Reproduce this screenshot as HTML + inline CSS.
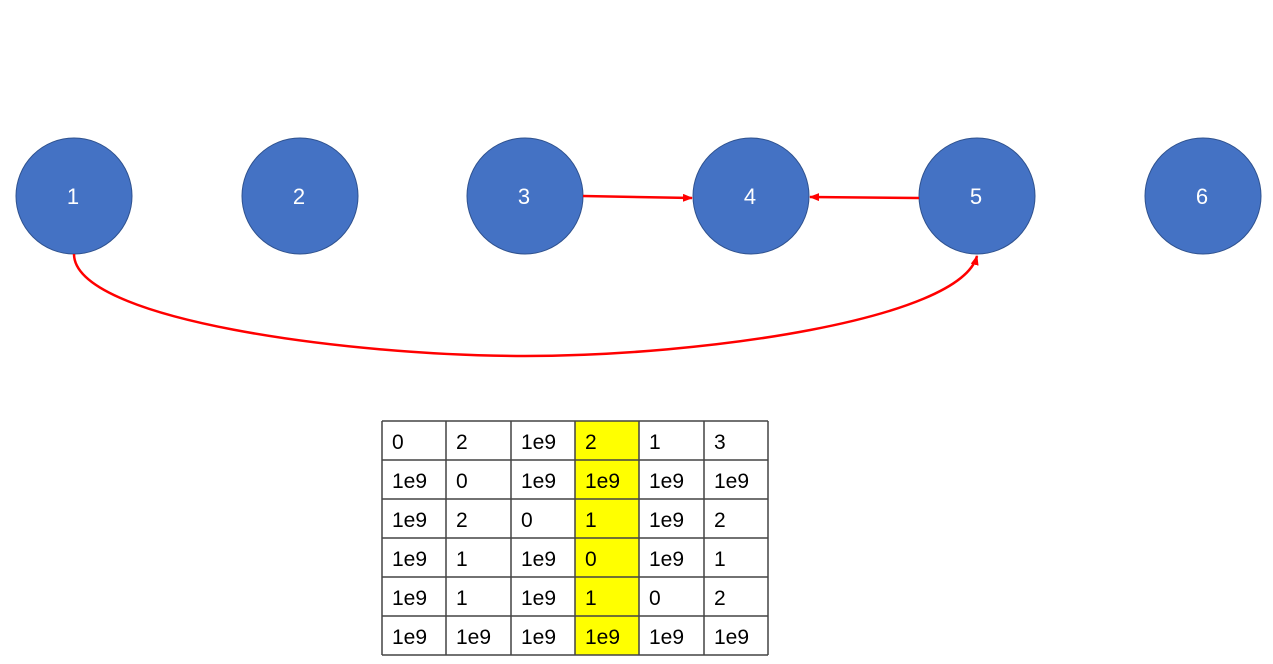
<!DOCTYPE html>
<html><head><style>
body{margin:0;background:#fff;width:1273px;height:664px;overflow:hidden;font-family:"Liberation Sans","Noto Sans CJK KR",sans-serif}
</style></head><body>
<svg width="1273" height="664" style="position:absolute;left:0;top:0">
<defs><marker id="a" markerWidth="10" markerHeight="8" refX="9" refY="4" orient="auto" markerUnits="userSpaceOnUse"><path d="M0,0 L10,4 L0,8 Z" fill="#f00"/></marker></defs>
<g fill="#4472c4" stroke="#2f528f" stroke-width="1">
<circle cx="74" cy="196" r="58"/><circle cx="300" cy="196" r="58"/><circle cx="525" cy="196" r="58"/>
<circle cx="751" cy="196" r="58"/><circle cx="977" cy="196" r="58"/><circle cx="1203" cy="196" r="58"/>
</g>
<g fill="#fff" font-size="22" text-anchor="middle" font-family="Liberation Sans,sans-serif">
<text x="73" y="204">1</text><text x="299" y="204">2</text><text x="524" y="204">3</text>
<text x="750" y="204">4</text><text x="976" y="204">5</text><text x="1202" y="204">6</text>
</g>
<g stroke="#f00" stroke-width="2.5" fill="none">
<path d="M583,196 L692,198" marker-end="url(#a)"/>
<path d="M919,198 L810,197" marker-end="url(#a)"/>
<path d="M74,254 C74,320 350,356 525,356 C700,356 960,320 977,256" marker-end="url(#a)"/>
</g>
<rect x="575" y="421" width="64" height="234" fill="#ffff00"/>
<g stroke="#444" stroke-width="1.5">
<line x1="382" y1="421" x2="768" y2="421"/><line x1="382" y1="460" x2="768" y2="460"/>
<line x1="382" y1="499" x2="768" y2="499"/><line x1="382" y1="538" x2="768" y2="538"/>
<line x1="382" y1="577" x2="768" y2="577"/><line x1="382" y1="616" x2="768" y2="616"/>
<line x1="382" y1="655" x2="768" y2="655"/>
<line x1="382" y1="421" x2="382" y2="655"/><line x1="446" y1="421" x2="446" y2="655"/>
<line x1="511" y1="421" x2="511" y2="655"/><line x1="575" y1="421" x2="575" y2="655"/>
<line x1="639" y1="421" x2="639" y2="655"/><line x1="704" y1="421" x2="704" y2="655"/>
<line x1="768" y1="421" x2="768" y2="655"/>
</g>
<g font-size="21" fill="#000" font-family="Liberation Sans,sans-serif">
<text x="392" y="449">0</text><text x="456" y="449">2</text><text x="521" y="449">1e9</text><text x="585" y="449">2</text><text x="649" y="449">1</text><text x="714" y="449">3</text>
<text x="392" y="488">1e9</text><text x="456" y="488">0</text><text x="521" y="488">1e9</text><text x="585" y="488">1e9</text><text x="649" y="488">1e9</text><text x="714" y="488">1e9</text>
<text x="392" y="527">1e9</text><text x="456" y="527">2</text><text x="521" y="527">0</text><text x="585" y="527">1</text><text x="649" y="527">1e9</text><text x="714" y="527">2</text>
<text x="392" y="566">1e9</text><text x="456" y="566">1</text><text x="521" y="566">1e9</text><text x="585" y="566">0</text><text x="649" y="566">1e9</text><text x="714" y="566">1</text>
<text x="392" y="605">1e9</text><text x="456" y="605">1</text><text x="521" y="605">1e9</text><text x="585" y="605">1</text><text x="649" y="605">0</text><text x="714" y="605">2</text>
<text x="392" y="644">1e9</text><text x="456" y="644">1e9</text><text x="521" y="644">1e9</text><text x="585" y="644">1e9</text><text x="649" y="644">1e9</text><text x="714" y="644">1e9</text>
</g>
</svg>
</body></html>
